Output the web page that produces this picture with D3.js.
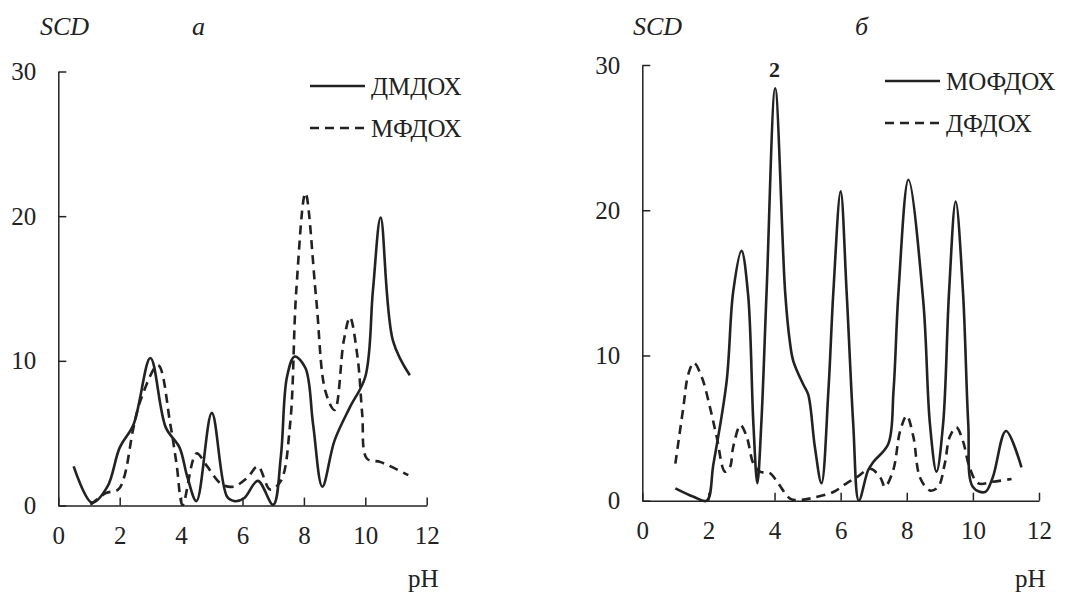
<!DOCTYPE html>
<html>
<head>
  <meta charset="utf-8">
  <script src="https://cdnjs.cloudflare.com/ajax/libs/d3/7.8.5/d3.min.js"></script>
  <style>
    body { margin: 0; background: #fff; }
    .domain, .tick line { stroke: #222; stroke-width: 1.5; }
  </style>
</head>
<body>
<div id="chart"></div>
<script>
  // panel a
  var phA1 = [0.5, 1.1, 1.6, 2.0, 2.45, 3.0, 3.5, 3.95, 4.2, 4.5, 5.0, 5.5, 5.75, 6.05, 6.5, 7.0, 7.25, 7.45, 7.7, 8.05, 8.3, 8.6, 9.0, 9.5, 10.0, 10.25, 10.5, 10.9, 11.45];
  var scdA1 = [2.7, 0.2, 1.3, 4.0, 5.6, 10.2, 5.4, 4.0, 2.0, 0.3, 6.4, 0.6, 0.3, 0.5, 1.7, 0.05, 3.4, 8.9, 10.3, 9.5, 5.6, 1.3, 4.5, 6.8, 8.9, 14.9, 19.9, 11.4, 9.0];
  var phA2 = [1.05, 1.55, 1.95, 2.15, 2.45, 2.7, 3.25, 3.65, 3.85, 4.05, 4.5, 4.85, 5.3, 5.7, 6.15, 6.5, 6.9, 7.25, 7.55, 7.75, 8.05, 8.4, 8.7, 9.0, 9.3, 9.5, 9.75, 9.9, 10.05, 10.5, 11.4];
  var scdA2 = [0.05, 0.85, 1.1, 2.0, 5.4, 7.4, 9.7, 5.6, 2.9, 0.05, 3.6, 2.7, 1.5, 1.3, 1.9, 2.7, 1.1, 1.7, 5.6, 14.8, 21.6, 14.3, 7.9, 6.6, 11.4, 13.0, 10.2, 6.3, 3.25, 3.0, 2.1];

  // panel б
  var phB1 = [1.0, 1.55, 1.95, 2.15, 2.55, 2.75, 3.0, 3.2, 3.36, 3.48, 3.6, 3.76, 4.02, 4.32, 4.46, 4.57, 4.87, 5.02, 5.22, 5.42, 5.63, 5.78, 6.0, 6.18, 6.38, 6.55, 6.83, 7.0, 7.44, 7.6, 7.75, 8.05, 8.5, 8.7, 8.9, 9.1, 9.28, 9.48, 9.7, 9.86, 10.0, 10.37, 10.6, 11.0, 11.47];
  var scdB1 = [0.85, 0.27, 0.0, 2.5, 8.2, 14.4, 17.2, 14.2, 5.3, 1.2, 5.3, 14.4, 28.4, 14.4, 11.0, 9.6, 8.0, 7.3, 3.7, 1.2, 7.6, 14.4, 21.3, 14.4, 5.3, 0.0, 2.1, 2.7, 3.9, 7.6, 14.4, 22.1, 13.7, 5.3, 2.0, 5.3, 14.4, 20.6, 14.4, 5.3, 0.95, 0.6, 1.6, 4.8, 2.3];
  var phB2 = [1.0, 1.24, 1.39, 1.56, 1.8, 2.05, 2.25, 2.5, 2.65, 2.75, 2.97, 3.16, 3.36, 3.56, 3.86, 4.11, 4.47, 4.77, 5.17, 5.78, 6.18, 6.48, 6.9, 7.2, 7.34, 7.59, 7.8, 8.0, 8.2, 8.4, 8.7, 8.95, 9.15, 9.3, 9.5, 9.7, 9.9, 10.16, 10.6, 11.17];
  var scdB2 = [2.55, 6.4, 8.7, 9.5, 8.5, 6.4, 4.4, 2.0, 2.3, 3.7, 5.2, 4.4, 2.55, 2.0, 1.9, 1.2, 0.15, 0.05, 0.2, 0.6, 1.2, 1.6, 2.2, 1.6, 0.95, 2.1, 4.8, 5.85, 4.4, 1.6, 0.7, 0.95, 2.55, 4.4, 5.05, 4.1, 2.3, 1.2, 1.3, 1.5];

  var xTicks = [0, 2, 4, 6, 8, 10, 12];
  var yTicks = [0, 10, 20, 30];

  var FONT = "'Liberation Serif'";
  var INK = "#222";

  var svg = d3.select("#chart").append("svg")
    .attr("width", 1078).attr("height", 593);

  function zip(xs, ys) { return xs.map(function(v, i) { return [v, ys[i]]; }); }

  function label(x, y, txt, size) {
    return svg.append("text").attr("x", x).attr("y", y)
      .style("font-family", FONT).style("font-size", size + "px").style("fill", INK).text(txt);
  }

  function lineKey(x, y, dash) {
    svg.append("line").attr("x1", x).attr("x2", x + 55)
      .attr("y1", y).attr("y2", y).attr("stroke", INK).attr("stroke-width", 2.6)
      .attr("stroke-dasharray", dash);
  }

  function drawPanel(p) {
    var x = d3.scaleLinear().domain([0, 12]).range([p.x0, p.x1]);
    var y = d3.scaleLinear().domain([0, 30]).range([p.y0, p.y1]);

    svg.append("g")
      .attr("transform", "translate(" + p.x0 + ",0)")
      .call(d3.axisLeft(y).tickValues(yTicks).tickSizeInner(-8).tickSizeOuter(0).tickPadding(22))
      .selectAll("text").style("font-family", FONT).style("font-size", "25px").style("fill", INK);

    svg.append("g")
      .attr("transform", "translate(0," + p.y0 + ")")
      .call(d3.axisBottom(x).tickValues(xTicks).tickSizeInner(-8).tickSizeOuter(0).tickPadding(21))
      .selectAll("text").style("font-family", FONT).style("font-size", "25px").style("fill", INK);

    var line = d3.line()
      .x(function(d) { return x(d[0]); })
      .y(function(d) { return y(d[1]); })
      .curve(d3.curveCatmullRom.alpha(0.5));

    svg.append("path").datum(zip(p.solidX, p.solidY))
      .attr("d", line).attr("fill", "none").attr("stroke", INK).attr("stroke-width", 2.6);
    svg.append("path").datum(zip(p.dashX, p.dashY))
      .attr("d", line).attr("fill", "none").attr("stroke", INK).attr("stroke-width", 2.6)
      .attr("stroke-dasharray", "9,6");

    label(p.scdX, 35, "SCD", 26).style("font-style", "italic");
    label(p.tagX, 35, p.tag, 26).style("font-style", "italic");
    label(p.phX, 587, "pH", 25);

    // legend
    lineKey(p.legX, p.legY, null);
    lineKey(p.legX, p.legY + 42, "9,6");
    label(p.legX + 61, p.legY, p.names[0], 25).attr("dy", "0.35em");
    label(p.legX + 61, p.legY + 42, p.names[1], 25).attr("dy", "0.35em");
    return { x: x, y: y };
  }

  drawPanel({
    x0: 58.3, x1: 426.7, y0: 505.5, y1: 71.5,
    solidX: phA1, solidY: scdA1, dashX: phA2, dashY: scdA2,
    scdX: 40, tagX: 192, tag: "a", phX: 408,
    legX: 310, legY: 86, names: ["ДМДОХ", "МФДОХ"]
  });

  var sb = drawPanel({
    x0: 642.3, x1: 1039, y0: 500.7, y1: 65,
    solidX: phB1, solidY: scdB1, dashX: phB2, dashY: scdB2,
    scdX: 633, tagX: 855, tag: "б", phX: 1015,
    legX: 885, legY: 81, names: ["МОФДОХ", "ДФДОХ"]
  });

  label(sb.x(4.0), 77, "2", 22).attr("text-anchor", "middle").style("font-weight", "bold");
</script>
</body>
</html>
